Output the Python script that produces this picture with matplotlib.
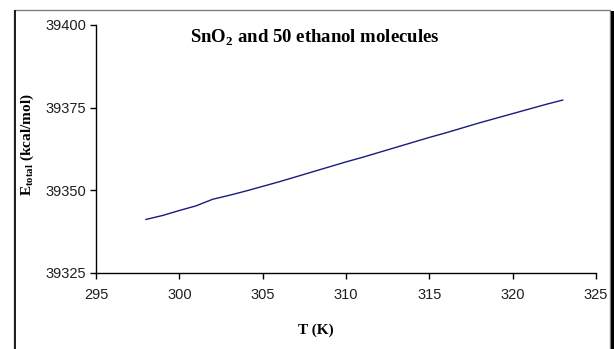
import numpy as np
import matplotlib
matplotlib.use("Agg")
import matplotlib.pyplot as plt
from matplotlib.patches import Rectangle

plt.rcParams["mathtext.fontset"] = "custom"
plt.rcParams["mathtext.rm"] = "Liberation Serif"
plt.rcParams["mathtext.bf"] = "Liberation Serif:bold"

# temperature (K) and total energy (kcal/mol)
temp = [298, 299, 300, 301, 302, 303, 304, 305, 306, 307, 308, 309, 310,
        311, 312, 313, 314, 315, 316, 317, 318, 319, 320, 321, 322, 323]
etotal = [39341.2, 39342.4, 39343.9, 39345.3, 39347.3, 39348.5, 39349.8,
          39351.2, 39352.6, 39354.1, 39355.6, 39357.1, 39358.6, 39360.0,
          39361.5, 39363.0, 39364.5, 39366.0, 39367.4, 39368.9, 39370.4,
          39371.8, 39373.2, 39374.6, 39376.0, 39377.3]
xticks = [295, 300, 305, 310, 315, 320, 325]
yticks = [39325, 39350, 39375, 39400]

W, H = 614, 349
fig = plt.figure(figsize=(W/100, H/100), dpi=100)
fig.patch.set_facecolor("white")

# outer chart frame
fig.patches.append(Rectangle((14/W, -0.05), 596/W, 1.05 - 10/H, transform=fig.transFigure,
                             fill=False, edgecolor="#808080", lw=1.0))
fig.patches.append(Rectangle((611/W, -0.05), 3/W, 1.05 - 11/H, transform=fig.transFigure,
                             facecolor="black", edgecolor="none"))
fig.patches.append(Rectangle((14/W, -0.05), 2/W, 1.05 - 10/H, transform=fig.transFigure,
                             facecolor="#202020", edgecolor="none"))

ax = fig.add_axes([96/W, 1 - 273/H, 500/W, 248/H])
ax.plot(temp, etotal, color="#1a1a80", lw=1.0)
ax.set_xlim(295, 325)
ax.set_ylim(39325, 39400)
ax.set_xticks(xticks)
ax.set_yticks(yticks)
for s in ["top", "right"]:
    ax.spines[s].set_visible(False)
for s in ["left", "bottom"]:
    ax.spines[s].set_linewidth(1.0)
ax.tick_params(direction="out", length=4, width=1, labelsize=10.5, pad=3)
for lab in ax.get_xticklabels() + ax.get_yticklabels():
    lab.set_fontfamily("Liberation Sans")
    lab.set_color("#202020")
ax.tick_params(axis="x", pad=7)

fig.text(315/W, 1 - 38/H, r"SnO$_\mathbf{2}$ and 50 ethanol molecules",
         ha="center", va="center", fontsize=13.5, fontweight="bold",
         family="Liberation Serif")
fig.text(316/W, 1 - 330/H, "T (K)", ha="center", va="center",
         fontsize=11, fontweight="bold", family="Liberation Serif")
fig.text(27/W, 1 - 145/H, r"E$_\mathbf{total}$ (kcal/mol)", ha="center", va="center",
         rotation=90, fontsize=11, fontweight="bold", family="Liberation Serif")

fig.savefig("out.png", dpi=100)
